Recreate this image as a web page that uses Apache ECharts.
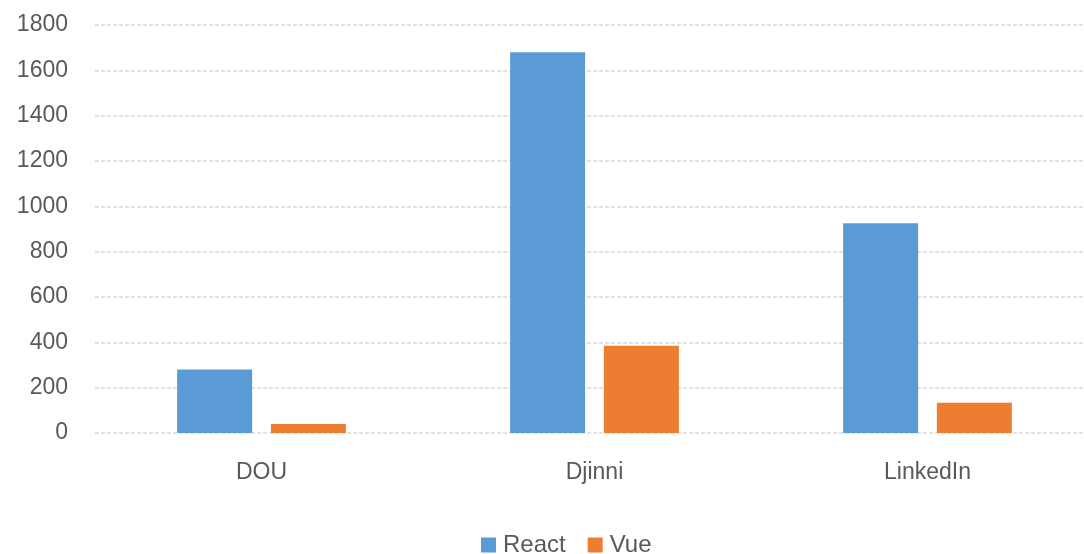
<!DOCTYPE html>
<html><head><meta charset="utf-8">
<script src="https://cdn.jsdelivr.net/npm/echarts@6/dist/echarts.min.js"></script>
<style>html,body{margin:0;padding:0;background:#fff}#c{width:1084px;height:554px}</style>
</head><body><div id="c"></div>
<script>
const categories = ['DOU', 'Djinni', 'LinkedIn'];
const reactValues = [280, 1680, 925];
const vueValues = [40, 385, 133];
const yTicks = { min: 0, max: 1800, interval: 200 };

const chart = echarts.init(document.getElementById('c'));
const font = 'Liberation Sans, Arial, sans-serif';
chart.setOption({
  animation: false,
  textStyle: { fontFamily: font },
  grid: { left: 95, width: 999, top: 25, bottom: 121, outerBoundsMode: 'none', containLabel: false },
  legend: {
    top: 528, left: 476, itemWidth: 15, itemHeight: 15, itemGap: 22,
    icon: 'rect',
    textStyle: { fontSize: 24, color: '#595959', fontFamily: font, padding: [0, 0, 0, 2] },
    data: ['React', 'Vue']
  },
  xAxis: {
    type: 'category', data: categories,
    axisLine: { show: false }, axisTick: { show: false },
    axisLabel: { fontSize: 23, color: '#595959', margin: 28, fontFamily: font }
  },
  yAxis: {
    type: 'value', min: yTicks.min, max: yTicks.max, interval: yTicks.interval,
    axisLine: { show: false }, axisTick: { show: false },
    axisLabel: { fontSize: 23, color: '#595959', margin: 27, fontFamily: font,
      formatter: v => String(v) },
    splitLine: { lineStyle: { color: '#D9D9D9', type: [4, 2], width: 1.5 } }
  },
  series: [
    { name: 'React', type: 'bar', data: reactValues, barWidth: 75, barGap: '25%',
      itemStyle: { color: '#5B9BD5' } },
    { name: 'Vue', type: 'bar', data: vueValues, barWidth: 75,
      itemStyle: { color: '#ED7D31' } }
  ]
});
</script></body></html>
